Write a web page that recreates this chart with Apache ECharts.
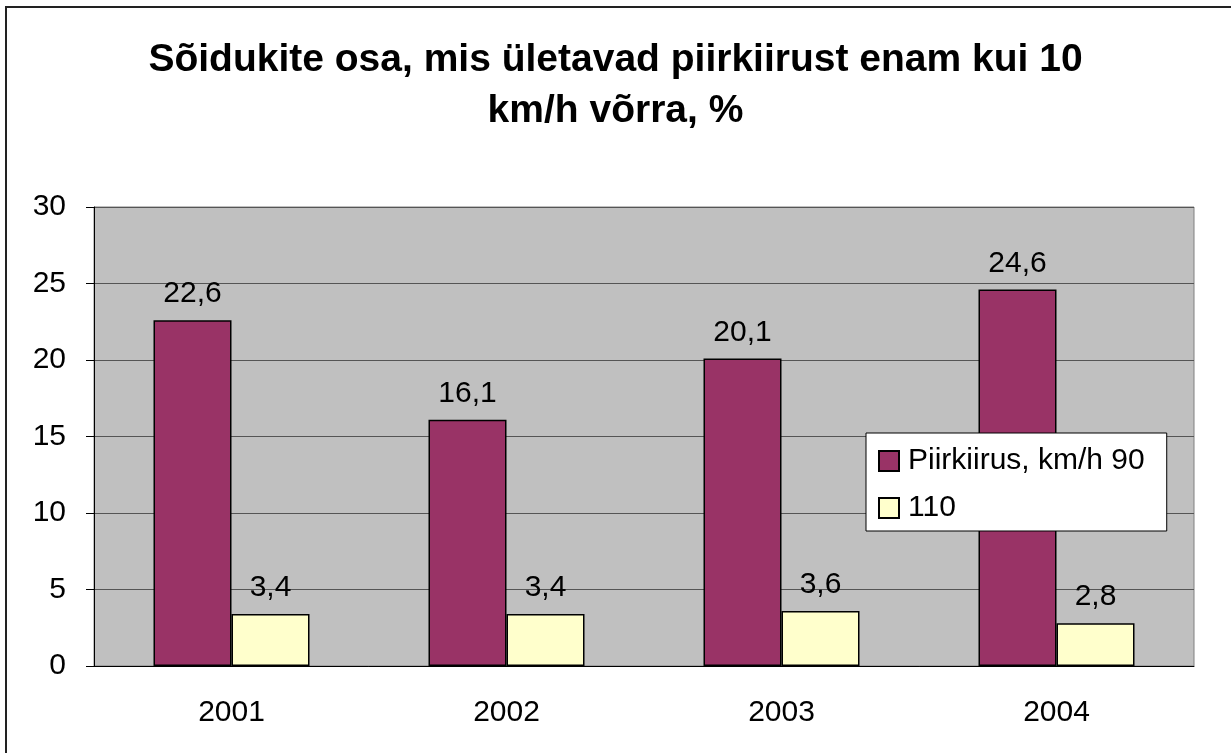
<!DOCTYPE html>
<html>
<head>
<meta charset="utf-8">
<script src="https://cdn.jsdelivr.net/npm/echarts@6/dist/echarts.min.js"></script>
<style>
  html, body { margin: 0; padding: 0; background: #fff; }
  #chart { width: 1231px; height: 753px; }
</style>
</head>
<body>
<div id="chart"></div>
<script>
const years = ['2001', '2002', '2003', '2004']
const limit90 = [22.6, 16.1, 20.1, 24.6]
const limit110 = [3.4, 3.4, 3.6, 2.8]
const seriesNames = ['Piirkiirus, km/h 90', '110']
const titleText = 'Sõidukite osa, mis ületavad piirkiirust enam kui 10\nkm/h võrra, %'

const font = 'Liberation Sans, Arial, sans-serif'
const chart = echarts.init(document.getElementById('chart'))

const barLabel = {
  show: true,
  position: 'top',
  distance: 11,
  fontFamily: font,
  fontSize: 30,
  color: '#000',
  formatter: (p) => String(p.value).replace('.', ',')
}

chart.setOption({
  animation: false,
  backgroundColor: '#fff',
  graphic: [{
    type: 'rect',
    shape: { x: 6, y: 7, width: 1260, height: 780 },
    style: { fill: 'none', stroke: '#222', lineWidth: 2 },
    silent: true
  }],
  title: {
    text: titleText,
    left: 'center',
    top: 30,
    textStyle: { fontFamily: font, fontSize: 39, fontWeight: 'bold', color: '#000', lineHeight: 51 }
  },
  legend: {
    orient: 'vertical',
    left: 866,
    top: 433,
    backgroundColor: '#fff',
    borderColor: '#000',
    borderWidth: 1,
    padding: [12, 22, 7, 12],
    itemWidth: 20,
    itemHeight: 20,
    itemGap: 15,
    icon: 'rect',
    textStyle: { fontFamily: font, fontSize: 30, color: '#000', lineHeight: 32, padding: [0, 0, 0, 4] },
    data: seriesNames
  },
  grid: {
    left: 94, right: 37, top: 207, bottom: 87,
    show: true, backgroundColor: '#c0c0c0', borderColor: '#808080', borderWidth: 1
  },
  xAxis: {
    type: 'category',
    data: years,
    axisLine: { lineStyle: { color: '#000', width: 1 } },
    axisTick: { length: 9, lineStyle: { color: '#000' } },
    axisLabel: { margin: 32, fontFamily: font, fontSize: 30, color: '#000' }
  },
  yAxis: {
    type: 'value',
    min: 0, max: 30, interval: 5,
    axisLine: { show: true, lineStyle: { color: '#000', width: 1 } },
    axisTick: { show: true, length: 8, lineStyle: { color: '#000' } },
    axisLabel: { margin: 28, fontFamily: font, fontSize: 30, color: '#000' },
    splitLine: { lineStyle: { color: '#555', width: 1 } }
  },
  series: [
    {
      name: seriesNames[0],
      type: 'bar',
      data: limit90,
      barWidth: 78,
      barGap: '0%',
      itemStyle: { color: '#993366', borderColor: '#000', borderWidth: 1.5 },
      label: barLabel
    },
    {
      name: seriesNames[1],
      type: 'bar',
      data: limit110,
      barWidth: 78,
      itemStyle: { color: '#ffffcc', borderColor: '#000', borderWidth: 1.5 },
      label: barLabel
    }
  ]
})
</script>
</body>
</html>
